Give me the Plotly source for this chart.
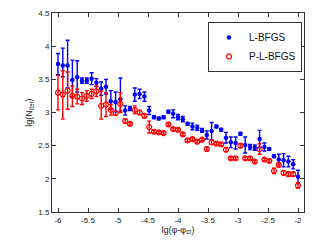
import plotly.graph_objects as go

# lg(phi - phi_cr)
x_vals = [-6.00, -5.92, -5.84, -5.76, -5.68, -5.60, -5.52, -5.44, -5.36, -5.28,
          -5.20, -5.12, -5.04, -4.96, -4.88, -4.80, -4.72, -4.64, -4.56, -4.48,
          -4.40, -4.32, -4.24, -4.16, -4.08, -4.00, -3.92, -3.84, -3.76, -3.68,
          -3.60, -3.52, -3.44, -3.36, -3.28, -3.20, -3.12, -3.04, -2.96, -2.88,
          -2.80, -2.72, -2.64, -2.56, -2.48, -2.40, -2.32, -2.24, -2.16, -2.08,
          -2.00]

# L-BFGS
lbfgs_y = [3.73, 3.71, 3.71, 3.49, 3.53, 3.48, 3.48, 3.51, 3.45, 3.36,
           3.39, 3.17, 3.16, 3.20, 3.03, 3.06, 3.27, 3.28, 3.24, 3.03,
           2.93, 2.91, 2.93, 3.01, 2.98, 2.93, 2.90, 2.83, 2.79, 2.77,
           2.73, 2.66, 2.72, 2.79, 2.74, 2.62, 2.55, 2.54, 2.68, 2.51,
           2.48, 2.47, 2.60, 2.48, 2.45, 2.34, 2.29, 2.28, 2.26, 2.22,
           2.03]
lbfgs_err_plus = [0.16, 0.26, 0.38, 0.30, 0.25, 0.04, 0.04, 0.09, 0.06, 0.10,
                  0.11, 0.16, 0.15, 0.32, 0.07, 0.03, 0.10, 0.07, 0.07, 0.06,
                  0.02, 0.02, 0.02, 0.02, 0.06, 0.04, 0.04, 0.02, 0.05, 0.04,
                  0.03, 0.06, 0.13, 0.02, 0.02, 0.08, 0.08, 0.09, 0.02, 0.12,
                  0.04, 0.04, 0.13, 0.06, 0.02, 0.02, 0.08, 0.10, 0.08, 0.07,
                  0.10]
lbfgs_err_minus = [0.16, 0.17, 0.34, 0.25, 0.22, 0.04, 0.04, 0.09, 0.06, 0.10,
                   0.11, 0.12, 0.15, 0.18, 0.07, 0.03, 0.10, 0.07, 0.07, 0.06,
                   0.02, 0.02, 0.02, 0.02, 0.06, 0.04, 0.04, 0.02, 0.05, 0.04,
                   0.03, 0.06, 0.13, 0.02, 0.02, 0.08, 0.08, 0.09, 0.02, 0.12,
                   0.04, 0.04, 0.13, 0.06, 0.02, 0.02, 0.08, 0.10, 0.08, 0.07,
                   0.10]

# P-L-BFGS
plbfgs_y = [3.30, 3.27, 3.33, 3.25, 3.24, 3.21, 3.25, 3.28, 3.32, 3.10,
            3.12, 3.04, 2.99, 3.13, 2.87, 2.83, 3.04, 3.00, 2.95, 2.78,
            2.71, 2.70, 2.69, 2.82, 2.75, 2.74, 2.67, 2.58, 2.60, 2.56,
            2.59, 2.45, 2.55, 2.53, 2.52, 2.44, 2.31, 2.31, 2.50, 2.31,
            2.31, 2.26, 2.45, 2.29, 2.27, 2.12, 2.21, 2.09, 2.07, 2.07,
            1.90]
plbfgs_err_plus = [0.26, 0.36, 0.28, 0.15, 0.11, 0.09, 0.08, 0.07, 0.08, 0.22,
                   0.18, 0.08, 0.03, 0.17, 0.03, 0.02, 0.06, 0.03, 0.03, 0.09,
                   0.02, 0.02, 0.02, 0.02, 0.02, 0.02, 0.02, 0.02, 0.02, 0.02,
                   0.02, 0.03, 0.03, 0.02, 0.02, 0.03, 0.02, 0.02, 0.03, 0.02,
                   0.02, 0.02, 0.08, 0.02, 0.02, 0.04, 0.03, 0.03, 0.03, 0.03,
                   0.04]
plbfgs_err_minus = [0.26, 0.37, 0.28, 0.16, 0.11, 0.09, 0.08, 0.07, 0.08, 0.20,
                    0.18, 0.08, 0.03, 0.13, 0.03, 0.02, 0.06, 0.03, 0.03, 0.09,
                    0.02, 0.02, 0.02, 0.02, 0.02, 0.02, 0.02, 0.02, 0.02, 0.02,
                    0.02, 0.03, 0.03, 0.02, 0.02, 0.03, 0.02, 0.02, 0.03, 0.02,
                    0.02, 0.02, 0.08, 0.02, 0.02, 0.04, 0.03, 0.03, 0.03, 0.03,
                    0.04]

x_tickvals = [-6, -5.5, -5, -4.5, -4, -3.5, -3, -2.5, -2]
x_ticktext = ["-6", "-5.5", "-5", "-4.5", "-4", "-3.5", "-3", "-2.5", "-2"]
y_tickvals = [1.5, 2, 2.5, 3, 3.5, 4, 4.5]
y_ticktext = ["1.5", "2", "2.5", "3", "3.5", "4", "4.5"]

FONT = "Liberation Sans, Arial, sans-serif"

fig = go.Figure()
fig.add_trace(go.Scatter(
    x=x_vals, y=lbfgs_y, mode="markers", name="L-BFGS",
    marker=dict(symbol="circle", size=4.5, color="#0000ff"),
    error_y=dict(type="data", array=lbfgs_err_plus, arrayminus=lbfgs_err_minus,
                 color="#0000ff", thickness=1.4, width=2),
))
fig.add_trace(go.Scatter(
    x=x_vals, y=plbfgs_y, mode="markers", name="P-L-BFGS",
    marker=dict(symbol="circle-open", size=5, color="#ff0000", line=dict(width=1.2)),
    error_y=dict(type="data", array=plbfgs_err_plus, arrayminus=plbfgs_err_minus,
                 color="#ff0000", thickness=1.4, width=2),
))

axis_common = dict(
    showgrid=False, zeroline=False, showline=True, linecolor="#333333", linewidth=1,
    mirror="ticks", ticks="inside", ticklen=4, tickcolor="#333333", tickwidth=1,
    tickfont=dict(family=FONT, size=8, color="#222222"), automargin=False,
)

fig.update_layout(
    width=332, height=247,
    margin=dict(l=52, r=28, t=13, b=35),
    paper_bgcolor="white", plot_bgcolor="white",
    font=dict(family=FONT, color="#222222"),
    showlegend=True,
    legend=dict(x=0.992, y=0.955, xanchor="right", yanchor="top",
                bgcolor="white", bordercolor="#333333", borderwidth=1,
                font=dict(family=FONT, size=10, color="#111111"),
                itemwidth=30, tracegroupgap=0),
    xaxis=dict(range=[-6.1, -1.9], tickvals=x_tickvals, ticktext=x_ticktext,
               title=dict(text="lg(φ-φ<sub>cr</sub>)", font=dict(family=FONT, size=9), standoff=2),
               **axis_common),
    yaxis=dict(range=[1.5, 4.5], tickvals=y_tickvals, ticktext=y_ticktext,
               title=dict(text="lg(N<sub>iter</sub>)", font=dict(family=FONT, size=9), standoff=4),
               **axis_common),
)

fig.write_html(
    "out.html",
    config={"displayModeBar": False},
    post_script="document.body.style.margin='0';document.body.style.overflow='hidden';",
)
